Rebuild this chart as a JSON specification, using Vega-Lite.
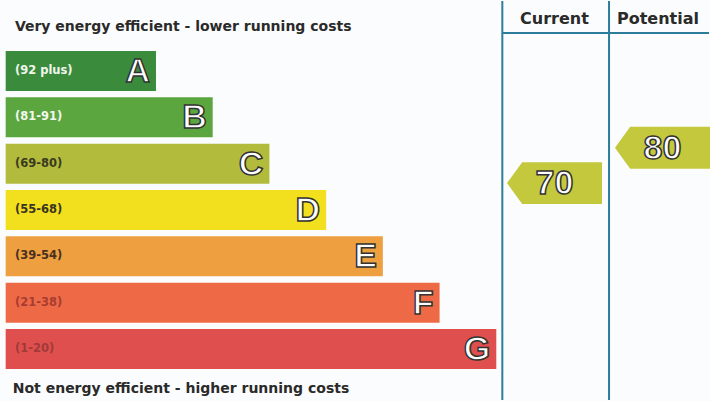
{
  "$schema": "https://vega.github.io/schema/vega-lite/v6.json",
  "width": 710,
  "height": 401,
  "autosize": {"type": "fit", "contains": "padding"},
  "padding": 0,
  "background": "#fbfcfd",
  "config": {"view": {"stroke": null}},
  "datasets": {
    "bands": [
      {"rating": "A", "range": "(92 plus)", "len": 22},
      {"rating": "B", "range": "(81-91)", "len": 30},
      {"rating": "C", "range": "(69-80)", "len": 38},
      {"rating": "D", "range": "(55-68)", "len": 46},
      {"rating": "E", "range": "(39-54)", "len": 54},
      {"rating": "F", "range": "(21-38)", "len": 62},
      {"rating": "G", "range": "(1-20)", "len": 70}
    ],
    "scores": [
      {"column": "Current", "score": 70},
      {"column": "Potential", "score": 80}
    ]
  },
  "layer": [
    {
      "data": {"name": "bands"},
      "layer": [
        {
          "mark": {"type": "bar"},
          "encoding": {
            "x": {"field": "len", "type": "quantitative", "scale": {"domain": [0, 100], "nice": false, "zero": false}, "axis": null},
            "x2": {"datum": 0.8},
            "y": {"field": "rating", "type": "nominal", "scale": {"domain": ["A","B","C","D","E","F","G"], "range": [50, 368], "paddingInner": 0.137, "paddingOuter": 0}, "axis": null},
            "fill": {"field": "rating", "type": "nominal", "scale": {"domain": ["A","B","C","D","E","F","G"], "range": ["#3a8c3c","#5ca640","#b2bb3c","#f2df1e","#eea040","#ee6a46","#df4f4d"]}, "legend": null}
          }
        },
        {
          "mark": {"type": "text", "align": "left", "baseline": "middle", "font": "DejaVu Sans", "fontWeight": "bold", "fontSize": 11.5},
          "encoding": {
            "x": {"datum": 2.1, "type": "quantitative", "scale": {"domain": [0, 100], "nice": false, "zero": false}, "axis": null},
            "y": {"field": "rating", "type": "nominal", "scale": {"domain": ["A","B","C","D","E","F","G"], "range": [50, 368], "paddingInner": 0.137, "paddingOuter": 0}, "axis": null},
            "text": {"field": "range"},
            "color": {"field": "rating", "type": "nominal", "scale": {"domain": ["A","B","C","D","E","F","G"], "range": ["#f2f5ee","#f4f7f0","#3a3a20","#3a3520","#4a3020","#a83c30","#a03a3a"]}, "legend": null}
          }
        },
        {
          "mark": {"type": "text", "align": "right", "baseline": "middle", "font": "Liberation Sans", "fontWeight": "bold", "fontSize": 34, "fill": "white", "stroke": "#333333", "strokeWidth": 1.5, "dx": -6, "dy": 1},
          "encoding": {
            "x": {"field": "len", "type": "quantitative", "scale": {"domain": [0, 100], "nice": false, "zero": false}, "axis": null},
            "y": {"field": "rating", "type": "nominal", "scale": {"domain": ["A","B","C","D","E","F","G"], "range": [50, 368], "paddingInner": 0.137, "paddingOuter": 0}, "axis": null},
            "text": {"field": "rating"}
          }
        }
      ]
    },
    {
      "data": {"values": [{}]},
      "layer": [
        {
          "mark": {"type": "rule", "color": "#2b7d9b", "strokeWidth": 2},
          "encoding": {
            "x": {"datum": 70.85, "type": "quantitative", "scale": {"domain": [0, 100], "nice": false, "zero": false}, "axis": null},
            "y": {"datum": 0, "type": "quantitative", "scale": {"domain": [0, 100], "nice": false, "zero": false, "reverse": true}, "axis": null},
            "y2": {"datum": 100}
          }
        },
        {
          "mark": {"type": "rule", "color": "#2b7d9b", "strokeWidth": 2},
          "encoding": {
            "x": {"datum": 85.9, "type": "quantitative", "scale": {"domain": [0, 100], "nice": false, "zero": false}, "axis": null},
            "y": {"datum": 0, "type": "quantitative", "scale": {"domain": [0, 100], "nice": false, "zero": false, "reverse": true}, "axis": null},
            "y2": {"datum": 100}
          }
        },
        {
          "mark": {"type": "rule", "color": "#2b7d9b", "strokeWidth": 2},
          "encoding": {
            "x": {"datum": 70.85, "type": "quantitative", "scale": {"domain": [0, 100], "nice": false, "zero": false}, "axis": null},
            "x2": {"datum": 100},
            "y": {"datum": 8, "type": "quantitative", "scale": {"domain": [0, 100], "nice": false, "zero": false, "reverse": true}, "axis": null}
          }
        },
        {
          "mark": {"type": "text", "align": "left", "baseline": "middle", "font": "DejaVu Sans", "fontWeight": "bold", "fontSize": 14, "color": "#2a2a2a"},
          "encoding": {
            "x": {"datum": 2.1, "type": "quantitative", "scale": {"domain": [0, 100], "nice": false, "zero": false}, "axis": null},
            "y": {"datum": 6.4, "type": "quantitative", "scale": {"domain": [0, 100], "nice": false, "zero": false, "reverse": true}, "axis": null},
            "text": {"value": "Very energy efficient - lower running costs"}
          }
        },
        {
          "mark": {"type": "text", "align": "left", "baseline": "middle", "font": "DejaVu Sans", "fontWeight": "bold", "fontSize": 14, "color": "#2a2a2a"},
          "encoding": {
            "x": {"datum": 1.8, "type": "quantitative", "scale": {"domain": [0, 100], "nice": false, "zero": false}, "axis": null},
            "y": {"datum": 97.3, "type": "quantitative", "scale": {"domain": [0, 100], "nice": false, "zero": false, "reverse": true}, "axis": null},
            "text": {"value": "Not energy efficient - higher running costs"}
          }
        },
        {
          "mark": {"type": "text", "align": "center", "baseline": "middle", "font": "DejaVu Sans", "fontWeight": "bold", "fontSize": 16, "color": "#2a2a2a"},
          "encoding": {
            "x": {"datum": 78.2, "type": "quantitative", "scale": {"domain": [0, 100], "nice": false, "zero": false}, "axis": null},
            "y": {"datum": 4.4, "type": "quantitative", "scale": {"domain": [0, 100], "nice": false, "zero": false, "reverse": true}, "axis": null},
            "text": {"value": "Current"}
          }
        },
        {
          "mark": {"type": "text", "align": "center", "baseline": "middle", "font": "DejaVu Sans", "fontWeight": "bold", "fontSize": 16, "color": "#2a2a2a"},
          "encoding": {
            "x": {"datum": 92.8, "type": "quantitative", "scale": {"domain": [0, 100], "nice": false, "zero": false}, "axis": null},
            "y": {"datum": 4.4, "type": "quantitative", "scale": {"domain": [0, 100], "nice": false, "zero": false, "reverse": true}, "axis": null},
            "text": {"value": "Potential"}
          }
        }
      ]
    },
    {
      "data": {"name": "scores"},
      "layer": [
        {
          "mark": {"type": "point", "shape": "M-1,0L-0.68,-0.44L1,-0.44L1,0.44L-0.68,0.44Z", "filled": true, "size": 9025, "color": "#c4c83c", "opacity": 1, "strokeWidth": 0},
          "encoding": {
            "x": {"field": "column", "type": "nominal", "scale": {"type": "point", "domain": ["Current", "Potential"], "range": [554.5, 662.5], "padding": 0}, "axis": null},
            "y": {"field": "score", "type": "quantitative", "scale": {"domain": [8.59, 121.55], "nice": false, "zero": false}, "axis": null}
          }
        },
        {
          "mark": {"type": "text", "align": "center", "baseline": "middle", "font": "Liberation Sans", "fontWeight": "bold", "fontSize": 34, "fill": "white", "stroke": "#333333", "strokeWidth": 1.5, "dy": 1},
          "encoding": {
            "x": {"field": "column", "type": "nominal", "scale": {"type": "point", "domain": ["Current", "Potential"], "range": [554.5, 662.5], "padding": 0}, "axis": null},
            "y": {"field": "score", "type": "quantitative", "scale": {"domain": [8.59, 121.55], "nice": false, "zero": false}, "axis": null},
            "text": {"field": "score"}
          }
        }
      ]
    }
  ],
  "resolve": {"scale": {"x": "independent", "y": "independent"}}
}
